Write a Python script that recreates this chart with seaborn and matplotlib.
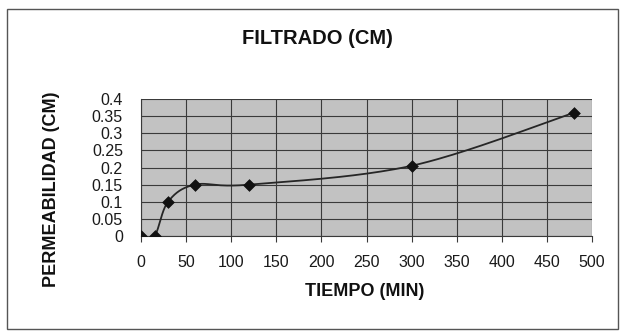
import numpy as np
import pandas as pd
import matplotlib
matplotlib.use("Agg")
import matplotlib.pyplot as plt
from matplotlib.patches import Rectangle
import seaborn as sns

# Filtration data: time (min) vs. permeability (cm)
tiempo = [0, 15, 30, 60, 120, 300, 480]
permeabilidad = [0.0, 0.0, 0.10, 0.15, 0.15, 0.205, 0.36]

x_ticks = [0, 50, 100, 150, 200, 250, 300, 350, 400, 450, 500]
y_ticks = [0, 0.05, 0.1, 0.15, 0.2, 0.25, 0.3, 0.35, 0.4]
y_tick_labels = ["0", "0.05", "0.1", "0.15", "0.2", "0.25", "0.3", "0.35", "0.4"]

title = "FILTRADO (CM)"
x_label = "TIEMPO (MIN)"
y_label = "PERMEABILIDAD (CM)"


def smooth_curve(xs, ys, steps=40, tension=6.0):
    """Bezier smoothing through the given points (spreadsheet 'smoothed line')."""
    xs = np.asarray(xs, float)
    ys = np.asarray(ys, float)
    px = np.concatenate([[xs[0]], xs, [xs[-1]]])
    py = np.concatenate([[ys[0]], ys, [ys[-1]]])
    out_x, out_y = [], []
    for i in range(1, len(px) - 2):
        p0 = np.array([px[i - 1], py[i - 1]])
        p1 = np.array([px[i], py[i]])
        p2 = np.array([px[i + 1], py[i + 1]])
        p3 = np.array([px[i + 2], py[i + 2]])
        c1 = p1 + (p2 - p0) / tension
        c2 = p2 - (p3 - p1) / tension
        t = np.linspace(0, 1, steps)[:, None]
        pts = ((1 - t) ** 3) * p1 + 3 * ((1 - t) ** 2) * t * c1 + 3 * (1 - t) * t ** 2 * c2 + t ** 3 * p2
        out_x.extend(pts[:, 0])
        out_y.extend(pts[:, 1])
    return np.array(out_x), np.array(out_y)


sns.set_theme(style="white")
plt.rcParams["font.family"] = ["Liberation Sans", "DejaVu Sans"]

fig = plt.figure(figsize=(6.2, 3.31), dpi=100)
fig.patch.set_facecolor("white")

# Outer chart frame
fig.patches.append(Rectangle((7 / 620, 2 / 331), 611 / 620, 320 / 331,
                             transform=fig.transFigure, fill=False,
                             edgecolor="#555555", linewidth=1.0))

ax = fig.add_axes([141 / 620, 95 / 331, 451 / 620, 137 / 331])
ax.set_facecolor("#c2c2c2")

sx, sy = smooth_curve(tiempo, permeabilidad)
curve = pd.DataFrame({"tiempo": sx, "permeabilidad": sy})
points = pd.DataFrame({"tiempo": tiempo, "permeabilidad": permeabilidad})

sns.lineplot(data=curve, x="tiempo", y="permeabilidad", ax=ax, color="#262626",
             linewidth=1.3, sort=False, zorder=3)
sns.scatterplot(data=points, x="tiempo", y="permeabilidad", ax=ax, marker="D",
                color="#111111", s=36, edgecolor="#111111", zorder=4)

ax.set_xlim(0, 500)
ax.set_ylim(0, 0.4)
ax.set_xticks(x_ticks)
ax.set_yticks(y_ticks)
ax.set_yticklabels(y_tick_labels)
ax.grid(True, color="#3a3a3a", linewidth=0.8)
ax.set_axisbelow(True)

for side in ["top", "right"]:
    ax.spines[side].set_visible(False)
ax.spines["left"].set_color("#3a3a3a")
ax.spines["bottom"].set_color("#3a3a3a")
ax.spines["left"].set_linewidth(0.8)
ax.spines["bottom"].set_linewidth(0.8)

ax.tick_params(axis="x", direction="out", length=4, width=0.8, color="#3a3a3a",
               pad=10, labelsize=11.5, labelcolor="#1a1a1a")
ax.tick_params(axis="y", length=0, pad=13, labelsize=11.5, labelcolor="#1a1a1a")
ax.tick_params(bottom=True)

ax.set_xlabel(x_label, fontsize=13, fontweight="bold", color="#111111", va="center")
ax.set_ylabel(y_label, fontsize=13, fontweight="bold", color="#111111", va="center")
ax.xaxis.set_label_coords((365 - 141) / 451, (236 - 292) / 137)
ax.yaxis.set_label_coords((52 - 141) / 451, (236 - 189) / 137)

fig.text(317 / 620, 1 - 38 / 331, title, ha="center", va="center",
         fontsize=14.5, fontweight="bold", color="#111111")

fig.savefig("out.png", dpi=100, facecolor="white")
